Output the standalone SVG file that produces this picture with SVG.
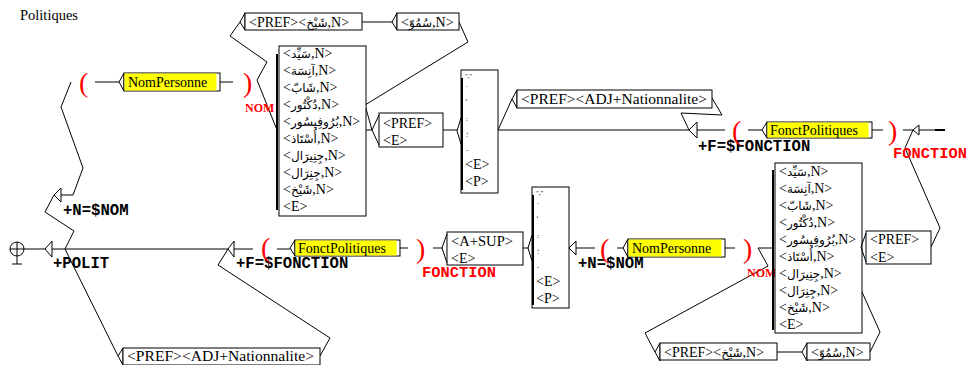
<svg xmlns="http://www.w3.org/2000/svg" width="970" height="365" viewBox="0 0 970 365">
<defs>
<style>
.ln{fill:none;stroke:#000;stroke-width:1}
.bx{fill:#fff;stroke:#000;stroke-width:1}
.yf{fill:#ffff00;stroke:none}
.tri{fill:#fff;stroke:#000;stroke-width:1}
.br{fill:none;stroke:#000;stroke-width:2}
.t{font-family:"Liberation Serif","DejaVu Sans",serif;font-size:14px;fill:#000}
.a{font-size:12px}
.p{font-family:"Liberation Serif","DejaVu Sans",serif;font-size:7px;fill:#000}
.o{font-family:"Liberation Mono","DejaVu Sans Mono",monospace;font-size:15.6px;font-weight:bold;fill:#000}
.ro{font-family:"Liberation Mono","DejaVu Sans Mono",monospace;font-size:15.4px;font-weight:bold;fill:#f00}
.rn{font-family:"Liberation Serif",serif;font-size:12px;font-weight:bold;fill:#f00}
.par{font-family:"Liberation Serif",serif;font-size:28px;fill:#f00}
</style>
</defs>
<rect width="970" height="365" fill="#fff"/>
<text class="t" x="20" y="20" style="font-size:14.5px">Politiques</text>

<g id="connectors" class="ln">
<path d="M24,249H45"/>
<path d="M65,249L74,231L45,212L54,195"/>
<path d="M65,249H228"/>
<path d="M65,249L118,356"/>
<path d="M320,356L330,338L218,265L228,249"/>
<path d="M73,195L83,168L61,107L71,82"/>
<path d="M95,82H119"/>
<path d="M257,80L277,130"/>
<path d="M257,80L267,62L230,36L240,22"/>
<path d="M362,22H392"/>
<path d="M459,22L468,42L365,105L372,130"/>
<path d="M366,130H372"/>
<path d="M443,130H457"/>
<path d="M498,130L512,99"/>
<path d="M498,130H689"/>
<path d="M712,98L722,115L681,113L689,130"/>
<path d="M748,130H762"/>
<path d="M903,130H913"/>
<path d="M931,247L940,228L905,148L913,130"/>
<path d="M277,249H290"/>
<path d="M433,248H442"/>
<path d="M523,248H528"/>
<path d="M617,248H623"/>
<path d="M758,248H773"/>
<path d="M758,248L768,266L645,333L655,352"/>
<path d="M777,352H802"/>
<path d="M870,352L880,332L853,272L861,247"/>
</g>

<g id="init"><circle cx="17" cy="249" r="7" class="bx"/><path class="ln" d="M10,249H24M17,242V264M12,264H22"/></g>

<g id="polit"><polygon class="tri" points="45,249 52,241 52,257"/><path class="ln" d="M52,249H65"/><text class="o" x="53" y="268">+POLIT</text></g>

<g id="setN1"><polygon class="tri" points="54,195 61,188 61,202"/><path class="ln" d="M61,195H73"/><text class="o" x="63" y="215">+N=$NOM</text></g>
<g id="vs1"><text class="par" x="79" y="92">(</text></g>
<g id="np1"><polygon class="tri" points="119,82 124,73 124,91"/><rect class="bx" x="124" y="73" width="96" height="18"/><rect class="yf" x="124.5" y="73.5" width="92" height="17"/><text class="t" x="128" y="87">NomPersonne</text><path class="ln" d="M220,82H233"/></g>
<g id="ve1"><text class="par" x="243" y="92">)</text><text class="rn" x="245" y="112">NOM</text></g>

<g id="chk1"><polygon class="tri" points="240,22 245,13 245,30"/><rect class="bx" x="245" y="13" width="117" height="17"/><text class="t" x="249" y="27">&lt;PREF&gt;&lt;<tspan class="a">شَيْخ</tspan>,N&gt;</text></g>
<g id="smw1"><polygon class="tri" points="392,22 397,13 397,30"/><rect class="bx" x="397" y="13" width="62" height="17"/><text class="t" x="401" y="27">&lt;<tspan class="a">سُمُوّ</tspan>,N&gt;</text></g>

<g id="list1"><rect class="bx" x="279" y="46" width="87" height="170"/><path class="br" d="M277,54V210"/>
<text class="t" x="283" y="58">&lt;<tspan class="a">سَيِّد</tspan>,N&gt;</text>
<text class="t" x="283" y="75">&lt;<tspan class="a">آنِسَة</tspan>,N&gt;</text>
<text class="t" x="283" y="92">&lt;<tspan class="a">شَابّ</tspan>,N&gt;</text>
<text class="t" x="283" y="109">&lt;<tspan class="a">دُكْتُور</tspan>,N&gt;</text>
<text class="t" x="283" y="126">&lt;<tspan class="a">بُرُوفِيسُور</tspan>,N&gt;</text>
<text class="t" x="283" y="143">&lt;<tspan class="a">أُسْتَاذ</tspan>,N&gt;</text>
<text class="t" x="283" y="160">&lt;<tspan class="a">جِنِيرَال</tspan>,N&gt;</text>
<text class="t" x="283" y="177">&lt;<tspan class="a">جِنِرَال</tspan>,N&gt;</text>
<text class="t" x="283" y="194">&lt;<tspan class="a">شَيْخ</tspan>,N&gt;</text>
<text class="t" x="283" y="211">&lt;E&gt;</text>
</g>

<g id="pe1"><rect class="bx" x="379" y="113" width="64" height="34"/><path class="ln" d="M379,115L372,130L379,145"/><text class="t" x="383" y="128">&lt;PREF&gt;</text><text class="t" x="383" y="145">&lt;E&gt;</text></g>

<g id="punct1"><rect class="bx" x="461" y="70" width="37" height="123"/><path class="br" d="M462,78V190"/><path class="ln" d="M457,131L461,118M457,131L461,144"/>
<text class="p" x="465" y="78">","</text>
<text class="p" x="466" y="87">.</text>
<text class="p" x="465" y="101">،</text>
<text class="p" x="466" y="121">:</text>
<text class="p" x="466" y="137">؛</text>
<text class="p" x="466" y="152">-</text>
<text class="t" x="465" y="169">&lt;E&gt;</text>
<text class="t" x="465" y="186">&lt;P&gt;</text>
</g>

<g id="adj1"><polygon class="tri" points="512,99 517,90 517,108"/><rect class="bx" x="517" y="90" width="195" height="18"/><text class="t" x="521" y="104" textLength="186" lengthAdjust="spacingAndGlyphs">&lt;PREF&gt;&lt;ADJ+Nationnalite&gt;</text></g>

<g id="setF1"><polygon class="tri" points="689,130 697,122 697,138"/><path class="ln" d="M697,130H725"/><text class="o" x="698" y="151">+F=$FONCTION</text></g>
<g id="vs2"><text class="par" x="732" y="140">(</text></g>
<g id="fp1"><polygon class="tri" points="762,130 767,122 767,138"/><rect class="bx" x="767" y="122" width="105" height="16"/><rect class="yf" x="767.5" y="122.5" width="101" height="15"/><text class="t" x="770" y="135">FonctPolitiques</text><path class="ln" d="M872,130H883"/></g>
<g id="ve2"><text class="par" x="888" y="140">)</text><text class="ro" x="893" y="158">FONCTION</text></g>

<g id="final"><polygon class="tri" points="913,130 919,125 919,135"/><path class="ln" d="M919,130H935"/><path d="M935,130H945" stroke="#000" stroke-width="2"/></g>

<g id="setF2"><polygon class="tri" points="228,249 234,241 234,257"/><path class="ln" d="M234,249H253"/><text class="o" x="236" y="268">+F=$FONCTION</text></g>
<g id="vs3"><text class="par" x="261" y="257">(</text></g>
<g id="fp2"><polygon class="tri" points="290,248 295,240 295,256"/><rect class="bx" x="295" y="240" width="105" height="16"/><rect class="yf" x="295.5" y="240.5" width="101" height="15"/><text class="t" x="298" y="253">FonctPolitiques</text><path class="ln" d="M400,248H408"/></g>
<g id="ve3"><text class="par" x="416" y="258">)</text><text class="ro" x="422" y="277">FONCTION</text></g>

<g id="sup"><rect class="bx" x="447" y="232" width="76" height="33"/><path class="ln" d="M447,234L442,248L447,263"/><text class="t" x="451" y="246" textLength="62" lengthAdjust="spacingAndGlyphs">&lt;A+SUP&gt;</text><text class="t" x="451" y="263">&lt;E&gt;</text></g>

<g id="punct2"><rect class="bx" x="532" y="187" width="37" height="121"/><path class="br" d="M533,195V305"/><path class="ln" d="M528,248L532,235M528,248L532,261"/>
<text class="p" x="536" y="195">","</text>
<text class="p" x="537" y="204">.</text>
<text class="p" x="536" y="218">،</text>
<text class="p" x="537" y="238">:</text>
<text class="p" x="537" y="254">؛</text>
<text class="p" x="537" y="269">-</text>
<text class="t" x="536" y="286">&lt;E&gt;</text>
<text class="t" x="536" y="303">&lt;P&gt;</text>
</g>

<g id="setN2"><polygon class="tri" points="569,248 576,241 576,255"/><path class="ln" d="M576,248H595"/><text class="o" x="578" y="268">+N=$NOM</text></g>
<g id="vs4"><text class="par" x="600" y="258">(</text></g>
<g id="np2"><polygon class="tri" points="623,248 628,239 628,257"/><rect class="bx" x="628" y="239" width="97" height="18"/><rect class="yf" x="628.5" y="239.5" width="93" height="17"/><text class="t" x="632" y="253">NomPersonne</text><path class="ln" d="M725,248H735"/></g>
<g id="ve4"><text class="par" x="743" y="258">)</text><text class="rn" x="747" y="277">NOM</text></g>

<g id="list2"><rect class="bx" x="775" y="163" width="87" height="170"/><path class="br" d="M773,170V330"/>
<text class="t" x="779" y="176">&lt;<tspan class="a">سَيِّد</tspan>,N&gt;</text>
<text class="t" x="779" y="193">&lt;<tspan class="a">آنِسَة</tspan>,N&gt;</text>
<text class="t" x="779" y="210">&lt;<tspan class="a">شَابّ</tspan>,N&gt;</text>
<text class="t" x="779" y="227">&lt;<tspan class="a">دُكْتُور</tspan>,N&gt;</text>
<text class="t" x="779" y="244">&lt;<tspan class="a">بُرُوفِيسُور</tspan>,N&gt;</text>
<text class="t" x="779" y="261">&lt;<tspan class="a">أُسْتَاذ</tspan>,N&gt;</text>
<text class="t" x="779" y="278">&lt;<tspan class="a">جِنِيرَال</tspan>,N&gt;</text>
<text class="t" x="779" y="295">&lt;<tspan class="a">جِنِرَال</tspan>,N&gt;</text>
<text class="t" x="779" y="312">&lt;<tspan class="a">شَيْخ</tspan>,N&gt;</text>
<text class="t" x="779" y="329">&lt;E&gt;</text>
</g>

<g id="pe2"><rect class="bx" x="866" y="231" width="65" height="33"/><path class="ln" d="M866,233L861,247L866,262"/><text class="t" x="870" y="244">&lt;PREF&gt;</text><text class="t" x="870" y="262">&lt;E&gt;</text></g>

<g id="chk2"><polygon class="tri" points="655,352 660,343 660,361"/><rect class="bx" x="660" y="343" width="117" height="17"/><text class="t" x="664" y="357">&lt;PREF&gt;&lt;<tspan class="a">شَيْخ</tspan>,N&gt;</text></g>
<g id="smw2"><polygon class="tri" points="802,352 807,343 807,361"/><rect class="bx" x="807" y="343" width="63" height="17"/><text class="t" x="811" y="357">&lt;<tspan class="a">سُمُوّ</tspan>,N&gt;</text></g>

<g id="adj2"><polygon class="tri" points="118,356 123,348 123,365"/><rect class="bx" x="123" y="348" width="197" height="17"/><text class="t" x="127" y="361" textLength="187" lengthAdjust="spacingAndGlyphs">&lt;PREF&gt;&lt;ADJ+Nationnalite&gt;</text></g>
</svg>
